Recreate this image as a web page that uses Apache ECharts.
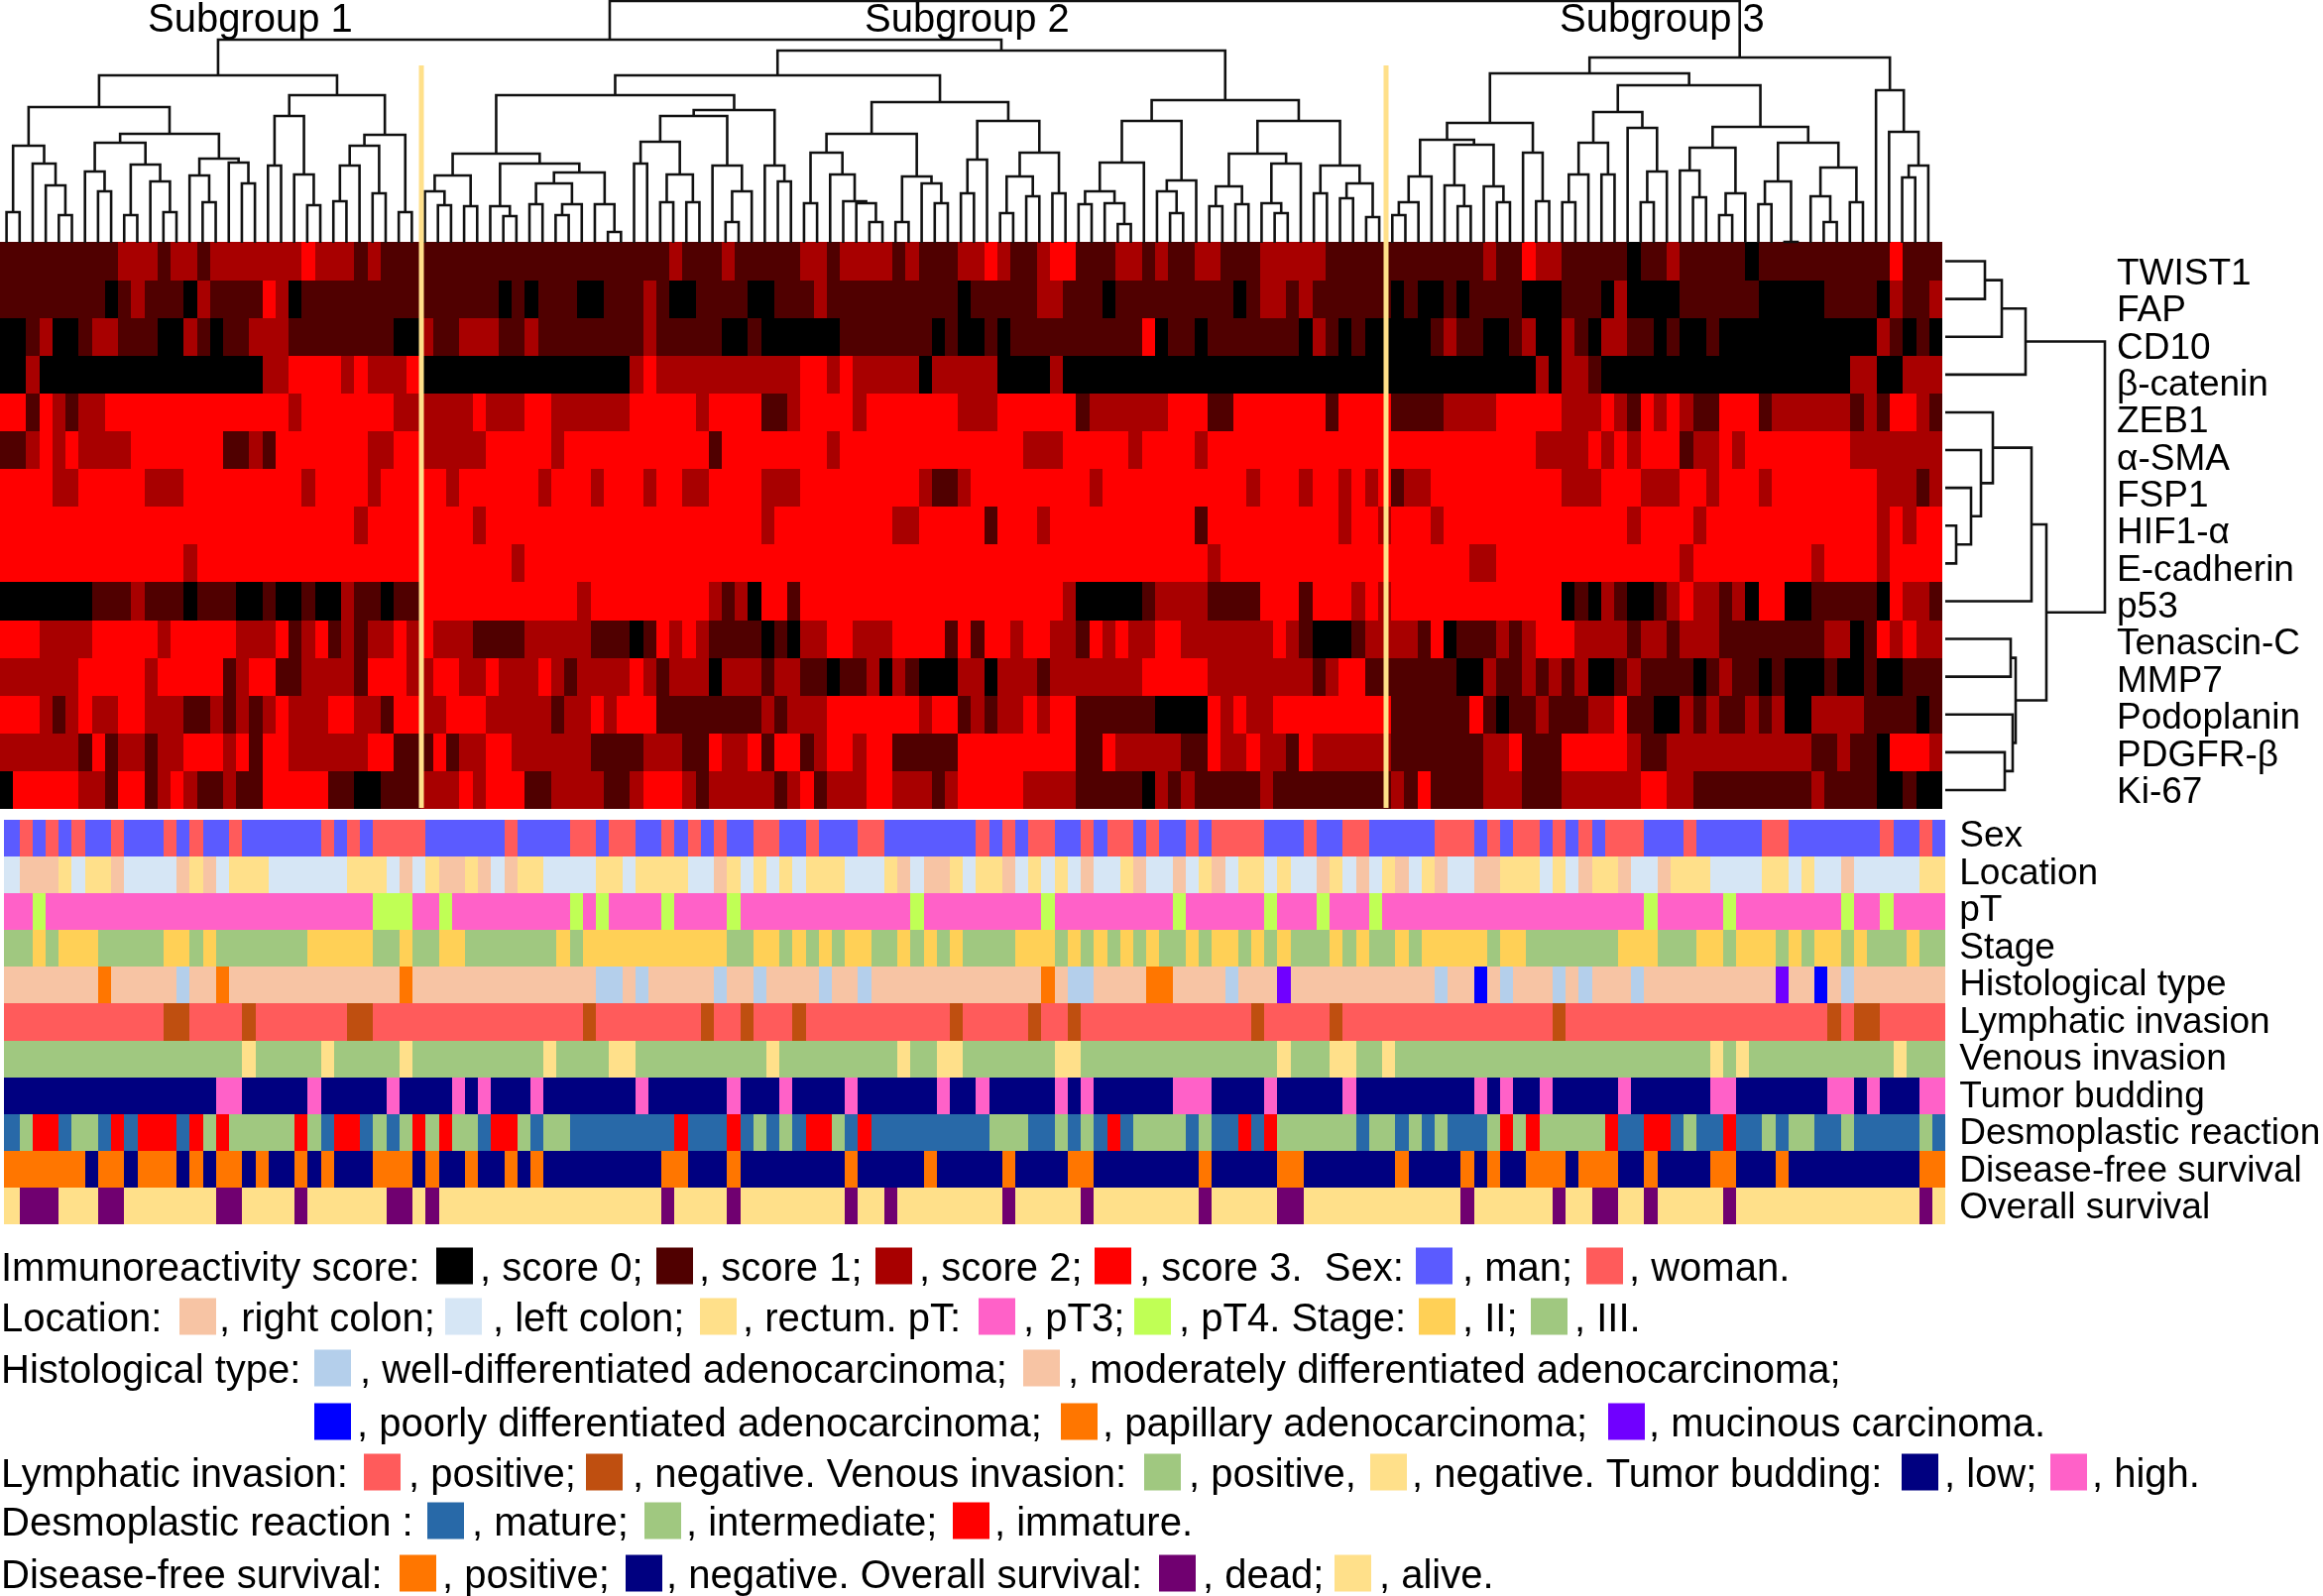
<!DOCTYPE html>
<html>
<head>
<meta charset="utf-8">
<title>Immunoreactivity clustering</title>
<script src="https://cdn.jsdelivr.net/npm/echarts@6/dist/echarts.min.js"></script>
<style>
  html, body { margin: 0; padding: 0; background: #fff; }
  #chart { width: 2343px; height: 1610px; }
</style>
</head>
<body>
<div id="chart"></div>
<script>
// 148 cases, every row below is written as pairs: value, column where that value stops
const twist1 = [1,9,2,12,1,13,2,15,1,16,2,23,3,24,2,27,1,28,2,29,1,51,2,52,1,55,2,56,1,61,2,63,1,64,2,68,1,69,2,70,1,73,2,75,3,76,2,77,1,79,2,80,3,82,1,85,2,87,1,88,2,89,1,91,2,93,1,96,2,101,1,113,2,114,1,116,3,117,2,119,1,124,0,125,1,127,2,128,1,133,0,134,1,144,3,145,1,148];
const fap = [1,8,0,9,1,10,2,11,1,14,0,15,2,16,1,20,3,21,2,22,0,23,1,38,0,39,1,40,0,41,1,44,0,46,1,49,2,50,1,51,0,53,1,57,0,59,1,62,2,63,1,73,0,74,1,79,2,81,1,84,0,85,1,94,0,95,1,96,2,98,1,99,2,100,1,106,0,107,1,108,0,110,1,111,0,112,1,116,0,119,1,122,0,123,2,124,0,128,1,134,0,139,1,143,0,144,2,145,1,147,2,148];
const cd10 = [0,2,1,3,2,4,0,6,1,7,2,9,1,12,0,14,2,15,1,16,0,17,1,19,2,22,1,30,0,32,2,33,1,35,2,38,1,40,2,41,1,49,2,50,1,55,0,57,1,58,0,64,1,71,0,72,1,73,0,75,1,76,0,77,1,87,3,88,0,89,1,91,0,92,1,99,0,100,2,101,1,102,0,103,1,104,0,109,1,110,2,111,1,113,0,115,1,116,2,117,0,119,2,120,1,121,0,122,2,124,1,126,0,127,1,128,0,130,1,131,0,143,2,144,1,145,0,146,1,147,0,148];
const betaCatenin = [0,2,2,3,0,20,2,22,3,26,2,27,3,28,2,31,3,32,0,48,2,49,3,50,2,61,3,63,2,64,3,65,2,70,0,71,2,76,0,80,2,81,0,117,2,118,0,119,2,121,1,122,0,141,2,143,0,145,2,148];
const zeb1 = [3,2,1,3,3,4,2,5,1,6,2,8,3,22,2,23,3,30,2,36,3,37,2,40,3,42,2,48,3,53,2,54,3,58,1,60,2,61,3,65,2,66,3,73,2,76,3,82,1,83,2,89,3,92,1,94,3,101,1,102,3,106,1,110,2,114,3,119,2,122,3,123,2,124,1,125,3,126,2,127,3,128,2,129,1,131,3,134,1,135,2,141,1,142,2,143,1,144,3,146,2,147,1,148];
const alphaSma = [1,2,2,3,3,4,2,5,3,6,2,10,3,17,1,19,2,20,1,21,3,28,2,30,3,32,2,37,3,42,2,43,3,54,1,55,3,63,2,64,3,78,2,81,3,86,2,87,3,91,2,92,3,117,2,121,3,122,2,123,3,124,2,125,3,128,1,129,2,131,3,132,2,133,3,141,2,148];
const fsp1 = [3,4,2,6,3,11,2,14,3,23,2,24,3,28,2,29,3,34,2,35,3,41,2,42,3,45,2,46,3,49,2,50,3,52,2,54,3,58,2,61,3,70,2,71,1,73,2,74,3,83,2,84,3,95,2,96,3,99,2,100,3,102,2,103,3,104,2,105,3,106,1,107,2,109,3,119,2,122,3,125,2,128,3,130,2,131,3,134,2,135,3,143,2,146,1,147,2,148];
const hif1a = [3,27,2,28,3,36,2,37,3,58,2,59,3,68,2,70,3,75,1,76,3,79,2,80,3,91,1,92,3,102,2,103,3,105,2,106,3,109,2,110,3,124,2,125,3,129,2,130,3,143,2,144,3,145,2,146,3,148];
const eCadherin = [3,14,2,15,3,39,2,40,3,92,2,93,3,112,2,114,3,128,2,129,3,138,2,139,3,143,2,144,3,148];
const p53 = [0,7,1,10,2,11,1,14,0,15,1,18,0,20,1,21,0,23,1,24,0,26,2,27,1,29,0,30,1,32,3,44,2,45,3,54,2,55,1,56,2,57,0,58,3,60,1,61,3,81,2,82,0,87,1,88,2,92,1,96,3,99,1,100,3,103,2,104,3,105,2,106,3,119,0,120,1,121,0,122,2,123,1,124,0,126,1,127,2,128,3,129,2,131,1,132,2,133,0,134,3,136,0,138,1,143,0,144,3,145,2,147,1,148];
const tenascinC = [3,3,2,7,3,12,2,13,3,18,2,21,3,22,1,23,2,24,3,25,1,26,2,27,1,28,2,30,3,31,2,32,3,33,2,36,1,40,2,45,1,48,0,49,1,50,3,51,2,52,3,53,2,54,1,58,0,59,1,60,0,61,2,63,3,65,2,68,3,72,1,73,3,74,1,75,3,77,2,78,3,80,2,82,1,83,3,84,2,85,3,86,2,88,3,90,2,97,3,98,2,99,1,100,0,103,1,104,2,108,1,109,3,110,0,111,1,114,2,115,1,116,2,117,3,120,2,124,1,125,2,127,1,128,2,131,1,139,2,141,0,142,1,143,3,144,2,145,3,146,2,148];
const mmp7 = [2,6,3,11,2,12,3,17,1,18,2,19,3,21,1,23,2,27,1,28,3,31,2,33,3,35,2,37,3,38,2,41,3,42,2,43,1,44,2,48,3,49,2,50,1,51,2,54,0,55,2,58,1,59,2,61,1,63,0,64,1,66,2,67,0,68,2,69,1,70,0,73,2,75,0,76,2,79,1,80,2,87,3,92,2,100,1,101,2,102,3,104,1,111,0,113,2,114,1,116,2,117,1,118,2,119,1,120,2,121,0,123,1,124,2,125,1,129,0,130,1,131,2,132,1,134,0,135,1,136,0,139,1,140,0,142,1,143,0,145,1,148];
const podoplanin = [3,3,2,4,1,5,2,6,3,7,2,9,3,11,2,14,1,16,2,17,1,18,2,19,1,20,2,21,3,22,2,25,3,27,2,29,1,30,3,32,2,34,3,37,2,42,1,43,2,45,3,46,2,47,3,50,1,58,2,59,1,60,2,63,3,70,2,71,3,73,1,74,2,75,1,76,2,78,3,79,2,80,3,82,1,88,0,92,3,93,2,94,3,95,2,97,3,106,1,112,3,113,1,114,0,115,1,117,2,118,1,121,2,123,3,124,1,126,0,128,2,129,1,130,2,131,1,133,2,134,1,135,2,136,0,138,2,142,1,146,0,147,1,148];
const pdgfrBeta = [2,6,1,7,3,8,1,9,2,11,1,12,2,14,3,17,2,18,3,19,1,20,3,22,2,28,3,30,1,33,3,34,1,35,2,37,3,39,2,45,1,49,2,52,1,54,3,55,2,57,3,58,1,59,3,61,1,62,2,63,3,65,2,66,3,68,1,73,3,82,1,84,3,85,2,90,1,92,3,93,2,95,3,96,2,98,1,99,3,100,2,106,1,113,2,115,3,116,1,119,3,124,2,125,1,127,2,138,1,140,2,141,1,143,0,144,3,147,2,148];
const ki67 = [0,1,3,6,2,8,1,9,3,11,1,12,2,13,3,14,2,15,1,17,2,18,1,20,3,25,1,27,0,29,1,32,2,35,3,36,2,37,3,40,1,42,2,46,1,48,2,49,3,52,2,53,1,54,2,59,1,60,2,61,3,62,1,63,2,66,3,68,2,71,1,72,2,73,3,78,2,82,1,87,0,88,2,89,1,90,2,91,1,96,2,97,1,106,2,107,1,108,3,109,1,113,2,116,1,119,2,125,3,127,2,129,1,138,2,139,1,143,0,145,1,146,0,148];

// 0 man, 1 woman
const sex = [0,1,1,2,0,3,1,4,0,5,1,6,0,8,1,9,0,12,1,13,0,14,1,15,0,17,1,18,0,24,1,25,0,26,1,27,0,28,1,32,0,38,1,39,0,43,1,45,0,46,1,48,0,50,1,51,0,52,1,53,0,54,1,55,0,57,1,59,0,61,1,62,0,65,1,67,0,74,1,75,0,76,1,77,0,78,1,80,0,82,1,83,0,84,1,86,0,87,1,88,0,90,1,91,0,92,1,96,0,99,1,100,0,102,1,104,0,109,1,112,0,113,1,114,0,115,1,117,0,118,1,119,0,120,1,121,0,122,1,125,0,128,1,129,0,134,1,136,0,143,1,144,0,146,1,147,0,148];
// 0 right colon, 1 left colon, 2 rectum
const location_ = [1,1,0,4,2,5,1,6,2,8,0,9,1,13,0,14,2,15,0,16,1,17,2,20,1,26,2,29,1,30,0,31,1,32,2,33,0,35,2,36,0,37,1,38,0,39,2,41,1,45,2,47,1,48,2,52,1,54,0,55,2,56,1,57,2,58,1,59,2,60,1,61,2,64,1,67,2,68,0,69,1,70,0,72,2,73,1,74,2,76,0,77,1,78,2,79,1,80,2,81,1,82,0,83,1,85,2,86,0,87,1,89,0,90,1,91,2,92,0,93,1,94,2,96,1,97,2,98,1,100,0,101,2,102,1,103,0,104,1,105,2,106,0,107,1,108,2,109,0,110,1,112,0,114,2,117,1,118,2,119,1,120,0,121,2,123,0,124,1,126,0,127,2,130,1,134,2,136,1,137,2,138,1,140,0,141,1,146,2,148];
// 0 pT3, 1 pT4
const pT = [0,2,1,3,0,28,1,31,0,33,1,34,0,43,1,44,0,45,1,46,0,50,1,51,0,55,1,56,0,69,1,70,0,79,1,80,0,89,1,90,0,96,1,97,0,100,1,101,0,104,1,105,0,125,1,126,0,131,1,132,0,140,1,141,0,143,1,144,0,148];
// 0 II, 1 III
const stage = [1,2,0,3,1,4,0,7,1,12,0,14,1,15,0,16,1,23,0,28,1,30,0,31,1,33,0,35,1,42,0,43,1,44,0,55,1,57,0,59,1,60,0,61,1,62,0,63,1,64,0,66,1,68,0,69,1,70,0,71,1,72,0,73,1,77,0,80,1,81,0,82,1,83,0,84,1,85,0,86,1,87,0,88,1,90,0,91,1,92,0,94,1,95,0,96,1,97,0,98,1,101,0,102,1,103,0,104,1,106,0,107,1,108,0,113,1,114,0,116,1,123,0,126,1,129,0,131,1,132,0,135,1,136,0,137,1,138,0,140,1,141,0,142,1,145,0,146,1,148];
// 0 well, 1 moderate, 2 poor, 3 papillary, 4 mucinous
const histologicalType = [1,7,3,8,1,13,0,14,1,16,3,17,1,30,3,31,1,45,0,47,1,48,0,49,1,54,0,55,1,57,0,58,1,62,0,63,1,65,0,66,1,79,3,80,1,81,0,83,1,87,3,89,1,93,0,94,1,97,4,98,1,109,0,110,1,112,2,113,1,114,0,115,1,118,0,119,1,120,0,121,1,124,0,125,1,135,4,136,1,138,2,139,1,140,0,141,1,148];
// 0 positive, 1 negative
const lymphaticInvasion = [0,12,1,14,0,18,1,19,0,26,1,28,0,44,1,45,0,53,1,54,0,56,1,57,0,60,1,61,0,72,1,73,0,78,1,79,0,81,1,82,0,95,1,96,0,101,1,102,0,118,1,119,0,139,1,140,0,141,1,143,0,148];
// 0 positive, 1 negative
const venousInvasion = [0,18,1,19,0,24,1,25,0,30,1,31,0,41,1,42,0,46,1,48,0,58,1,59,0,68,1,69,0,71,1,73,0,80,1,82,0,97,1,98,0,101,1,103,0,105,1,106,0,130,1,131,0,132,1,133,0,144,1,145,0,148];
// 0 low, 1 high
const tumorBudding = [0,16,1,18,0,23,1,24,0,29,1,30,0,34,1,35,0,36,1,37,0,40,1,41,0,48,1,49,0,55,1,56,0,59,1,60,0,64,1,65,0,71,1,72,0,74,1,75,0,80,1,81,0,82,1,83,0,89,1,92,0,96,1,97,0,102,1,103,0,112,1,113,0,114,1,115,0,117,1,118,0,123,1,124,0,130,1,132,0,139,1,141,0,142,1,143,0,146,1,148];
// 0 mature, 1 intermediate, 2 immature
const desmoplasticReaction = [0,1,1,2,2,4,0,5,1,7,0,8,2,9,0,10,2,13,0,14,2,15,1,16,2,17,1,22,2,23,1,24,0,25,2,27,0,28,1,29,0,30,1,31,2,32,1,33,2,34,1,36,0,37,2,39,1,40,0,41,1,43,0,51,2,52,0,55,2,56,0,57,1,58,0,59,1,60,0,61,2,63,1,64,0,65,2,66,0,75,1,78,0,80,1,81,0,82,1,83,0,84,2,85,0,86,1,90,0,91,1,92,0,94,2,95,0,96,2,97,1,103,0,104,1,106,0,107,1,108,0,109,1,110,0,113,1,114,2,115,1,116,2,117,1,122,2,123,0,125,2,127,0,128,1,129,0,131,2,132,0,134,1,135,0,136,1,138,0,140,1,141,0,146,1,147,0,148];
// 0 positive, 1 negative
const diseaseFreeSurvival = [0,6,1,7,0,9,1,10,0,13,1,14,0,15,1,16,0,18,1,19,0,20,1,22,0,23,1,24,0,25,1,28,0,31,1,32,0,33,1,35,0,36,1,38,0,39,1,40,0,41,1,50,0,52,1,55,0,56,1,64,0,65,1,70,0,71,1,76,0,77,1,81,0,83,1,91,0,92,1,97,0,99,1,106,0,107,1,111,0,112,1,113,0,114,1,116,0,119,1,120,0,123,1,125,0,126,1,130,0,132,1,135,0,136,1,146,0,148];
// 0 dead, 1 alive
const overallSurvival = [1,1,0,4,1,7,0,9,1,16,0,18,1,22,0,23,1,29,0,31,1,32,0,33,1,50,0,51,1,55,0,56,1,64,0,65,1,67,0,68,1,76,0,77,1,82,0,83,1,91,0,92,1,97,0,99,1,111,0,112,1,118,0,119,1,121,0,123,1,125,0,126,1,131,0,132,1,146,0,147,1,148];

const markers = ["TWIST1", "FAP", "CD10", "β-catenin", "ZEB1", "α-SMA", "FSP1", "HIF1-α", "E-cadherin", "p53", "Tenascin-C", "MMP7", "Podoplanin", "PDGFR-β", "Ki-67"];
const markerRows = [twist1, fap, cd10, betaCatenin, zeb1, alphaSma, fsp1, hif1a, eCadherin, p53, tenascinC, mmp7, podoplanin, pdgfrBeta, ki67];
const tracks = ["Sex", "Location", "pT", "Stage", "Histological type", "Lymphatic invasion", "Venous invasion", "Tumor budding", "Desmoplastic reaction", "Disease-free survival", "Overall survival"];
const trackRows = [sex, location_, pT, stage, histologicalType, lymphaticInvasion, venousInvasion, tumorBudding, desmoplasticReaction, diseaseFreeSurvival, overallSurvival];

// dendrograms: [merge height, left, right], plain numbers are leaves
const subgroup1Tree = [169,
  [137,
    [98, [31, 0, 1], [80, 2, [58, 3, [28, 4, 5]]]],
    [110,
      [101, [72, 6, [52, 7, 8]], [79, [28, 9, 10], [62, 11, [31, 12, 13]]]],
      [85, [68, 14, [41, 15, 16]], [81, 17, [60, 18, 19]]]]],
  [149,
    [128, [78, 20, 21], [69, 22, [38, 23, 24]]],
    [109, [98, [78, [42, 25, 26], 27], [50, 28, 29]], [31, 30, 31]]]];
const subgroup2Tree = [194,
  [169,
    [149,
      [90,
        [68, [52, 32, [38, 33, 34]], [37, 35, 36]],
        [80, [37, 37, [27, 38, 39]], [71, [60, [39, 40, 41], [39, [28, 42, 43], 44]], [39, 45, [11, 46, 47]]]]],
      [134,
        [128, [102, [80, 48, 49], [69, [41, 50, 51], [41, 52, 53]]], [78, 54, [52, [21, 55, 56], 57]]],
        [78, 58, [62, 59, 60]]]],
    [142,
      [110,
        [91, [40, 61, 62], [69, 63, [42, 64, [40, 65, [21, 66, 67]]]]],
        [67, [21, 68, 69], [60, 70, [40, 71, 72]]]],
      [123,
        [84, [50, 73, 74], 75],
        [91, [67, [30, 76, 77], [47, 78, 79]], [50, 80, 81]]]]],
  [144,
    [123,
      [81, [52, [39, 82, 83], [40, 84, [19, 85, 86]]], 87],
      [63, [52, 88, [30, 89, 90]], 91]],
    [123,
      [90, [57, [37, 92, 93], [39, 94, 95]], [80, [40, 96, [30, 97, 98]], 99]],
      [78, [50, 100, 101], [60, [45, 102, 103], [26, 104, 105]]]]]];
const subgroup3Tree = [187,
  [171,
    [121,
      [104, [67, [41, [28, 106, 107], 108], 109], [99, [58, 110, [37, 111, 112]], [57, 113, [41, 114, 115]]]],
      [91, 116, [42, 117, 118]]],
    [159,
      [132, [101, [69, [41, 119, 120], 121], [69, 122, 123]], [116, 124, [72, [41, 125, 126], 127]]],
      [117,
        [96, [73, 128, [46, 129, 130]], [50, [28, 131, 132], 133]],
        [101, [62, [39, 134, 135], [1, 136, 137]], [76, [47, 138, [21, 139, 140]], [41, 141, 142]]]]]],
  [154, 143, [112, 144, [78, [66, 145, 146], 147]]]];
const caseTree = [244, [205, subgroup1Tree, subgroup2Tree], subgroup3Tree];
const markerTree = [161,
  [81, [57, [40, 0, 1], 2], 3],
  [102,
    [87, [48, 4, [36, 5, [26, 6, [11, 7, 8]]]], 9],
    [71, [66, 10, 11], [68, 12, [60, 13, 14]]]]];

const scoreColors = ["#000000", "#500000", "#a80000", "#ff0000"];
const trackColors = [
  ["#5b5bff", "#ff5b5b"],
  ["#f7c4a4", "#d6e6f5", "#ffe08a"],
  ["#ff61c8", "#c0ff55"],
  ["#ffd056", "#a0c880"],
  ["#b4cfeb", "#f7c4a4", "#0000ff", "#ff7600", "#7000ff"],
  ["#ff5b5b", "#bf4f10"],
  ["#a0c880", "#ffe08a"],
  ["#000080", "#ff61c8"],
  ["#2869a8", "#a0c880", "#ff0000"],
  ["#ff7600", "#000080"],
  ["#700070", "#ffe08a"],
];

// legend lines, [x, text] or [x, swatch colour]
const legendLines = [
  { y: 1277, parts: [[1, "Immunoreactivity score:"], [440, "#000000"], [484, ", score 0;"], [662, "#500000"], [705, ", score 1;"], [883, "#a80000"], [927, ", score 2;"], [1104, "#ff0000"], [1149, ", score 3.  Sex:"], [1428, "#5b5bff"], [1475, ", man;"], [1600, "#ff5b5b"], [1643, ", woman."]] },
  { y: 1328, parts: [[1, "Location:"], [181, "#f7c4a4"], [221, ", right colon;"], [449, "#d6e6f5"], [497, ", left colon;"], [706, "#ffe08a"], [749, ", rectum. pT:"], [987, "#ff61c8"], [1032, ", pT3;"], [1144, "#c0ff55"], [1189, ", pT4. Stage:"], [1431, "#ffd056"], [1475, ", II;"], [1544, "#a0c880"], [1588, ", III."]] },
  { y: 1380, parts: [[1, "Histological type:"], [317, "#b4cfeb"], [363, ", well-differentiated adenocarcinoma;"], [1032, "#f7c4a4"], [1077, ", moderately differentiated adenocarcinoma;"]] },
  { y: 1434, parts: [[317, "#0000ff"], [360, ", poorly differentiated adenocarcinoma;"], [1070, "#ff7600"], [1112, ", papillary adenocarcinoma;"], [1622, "#7000ff"], [1663, ", mucinous carcinoma."]] },
  { y: 1485, parts: [[1, "Lymphatic invasion:"], [367, "#ff5b5b"], [412, ", positive;"], [591, "#bf4f10"], [638, ", negative. Venous invasion:"], [1154, "#a0c880"], [1199, ", positive,"], [1382, "#ffe08a"], [1424, ", negative. Tumor budding:"], [1918, "#000080"], [1961, ", low;"], [2068, "#ff61c8"], [2110, ", high."]] },
  { y: 1534, parts: [[1, "Desmoplastic reaction :"], [431, "#2869a8"], [476, ", mature;"], [650, "#a0c880"], [692, ", intermediate;"], [961, "#ff0000"], [1003, ", immature."]] },
  { y: 1587, parts: [[1, "Disease-free survival:"], [403, "#ff7600"], [446, ", positive;"], [631, "#000080"], [672, ", negative. Overall survival:"], [1169, "#700070"], [1213, ", dead;"], [1346, "#ffe08a"], [1391, ", alive."]] },
];
const subgroupTitles = [["Subgroup 1", 149], ["Subgroup 2", 872], ["Subgroup 3", 1573]];
const cutLines = [425, 1398];

const FONT = '"Liberation Sans", Arial, sans-serif';
const COLS = 148;
const columns = [];
for (let i = 0; i < COLS; i++) columns.push(i);

// value, end, value, end ... -> one value per column
const expand = (runs) => {
  const out = [];
  for (let i = 0; i < runs.length; i += 2) {
    while (out.length < runs[i + 1]) out.push(runs[i]);
  }
  return out;
};

// walk a tree and give back one 4 point bracket per merge
const treeSegments = (node, segs) => {
  if (typeof node === "number") return { pos: node + 0.5, h: 0 };
  const l = treeSegments(node[1], segs);
  const r = treeSegments(node[2], segs);
  segs.push([[l.pos, l.h], [l.pos, node[0]], [r.pos, node[0]], [r.pos, r.h]]);
  return { pos: (l.pos + r.pos) / 2, h: node[0] };
};

const heatData = [];
markerRows.forEach((runs, row) => {
  expand(runs).forEach((v, col) => heatData.push([col, row, v]));
});
const trackData = [];
trackRows.forEach((runs, row) => {
  expand(runs).forEach((v, col) => trackData.push([col, row, v]));
});

const caseSegs = [];
treeSegments(caseTree, caseSegs);
const markerSegs = [];
treeSegments(markerTree, markerSegs);

// cells snap to whole pixels so no seams show between neighbours
const cellRenderer = (colorOf, firstColExtra) => (params, api) => {
  const col = api.value(0);
  const row = api.value(1);
  const c = api.coord([col, row]);
  const s = api.size([1, 1]);
  const x0 = Math.round(c[0] - s[0] / 2 - (col === 0 ? firstColExtra : 0));
  const x1 = Math.round(c[0] + s[0] / 2);
  const y0 = Math.round(c[1] - s[1] / 2);
  const y1 = Math.round(c[1] + s[1] / 2);
  return {
    type: "rect",
    shape: { x: x0, y: y0, width: x1 - x0, height: y1 - y0 },
    style: { fill: colorOf(row, api.value(2)) },
  };
};

const graphics = [];
cutLines.forEach((x) => {
  graphics.push({ type: "rect", z: 20, silent: true, shape: { x: x - 2.5, y: 66, width: 5, height: 749 }, style: { fill: "#ffe08a" } });
});
subgroupTitles.forEach(([text, x]) => {
  graphics.push({ type: "text", z: 21, silent: true, style: { text, x, y: 21, fill: "#000", fontSize: 40, fontFamily: FONT, verticalAlign: "middle" } });
});
legendLines.forEach((line) => {
  line.parts.forEach(([x, part]) => {
    if (part[0] === "#") {
      graphics.push({ type: "rect", silent: true, shape: { x, y: line.y - 18.5, width: 37, height: 37 }, style: { fill: part } });
    } else {
      graphics.push({ type: "text", silent: true, style: { text: part, x, y: line.y + 3.5, fill: "#000", fontSize: 40, fontFamily: FONT, verticalAlign: "middle" } });
    }
  });
});

const hiddenCategory = (data, inverse) => ({ type: "category", data, show: false, inverse });
const labelAxis = (data, gridIndex, fontSize) => ({
  type: "category",
  gridIndex,
  data,
  inverse: true,
  position: "right",
  axisLine: { show: false },
  axisTick: { show: false },
  axisLabel: { show: true, interval: 0, margin: 0, color: "#000", fontSize, fontFamily: FONT },
});

const option = {
  animation: false,
  backgroundColor: "#fff",
  grid: [
    { left: 0, top: 244.5, width: 1959, height: 571.5 },
    { left: 6.4, top: 827, width: 1956, height: 408 },
    { left: -2.1, top: 0, width: 1953.6, height: 245 },
    { left: 1962, top: 244.5, width: 165, height: 571.5 },
    { left: 2134, top: 258, width: 1, height: 560.4 },
    { left: 1976, top: 825.3, width: 1, height: 412.5 },
  ],
  xAxis: [
    { ...hiddenCategory(columns), gridIndex: 0 },
    { ...hiddenCategory(columns), gridIndex: 1 },
    { type: "value", gridIndex: 2, min: 0, max: COLS, show: false },
    { type: "value", gridIndex: 3, min: 0, max: 165, show: false },
    { type: "value", gridIndex: 4, min: 0, max: 1, show: false },
    { type: "value", gridIndex: 5, min: 0, max: 1, show: false },
  ],
  yAxis: [
    { ...hiddenCategory(markers, true), gridIndex: 0 },
    { ...hiddenCategory(tracks, true), gridIndex: 1 },
    { type: "value", gridIndex: 2, min: 0, max: 245, show: false },
    { type: "value", gridIndex: 3, min: 0, max: 15, inverse: true, show: false },
    labelAxis(markers, 4, 37),
    labelAxis(tracks, 5, 37),
  ],
  series: [
    {
      type: "custom",
      xAxisIndex: 0,
      yAxisIndex: 0,
      data: heatData,
      silent: true,
      encode: { x: 0, y: 1 },
      progressive: 0,
      renderItem: cellRenderer((row, v) => scoreColors[v], 0),
    },
    {
      type: "custom",
      xAxisIndex: 1,
      yAxisIndex: 1,
      data: trackData,
      silent: true,
      encode: { x: 0, y: 1 },
      progressive: 0,
      renderItem: cellRenderer((row, v) => trackColors[row][v], 2.8),
    },
    {
      type: "lines",
      coordinateSystem: "cartesian2d",
      xAxisIndex: 2,
      yAxisIndex: 2,
      polyline: true,
      silent: true,
      lineStyle: { color: "#111", width: 2.6, opacity: 1, curveness: 0 },
      data: caseSegs.map((coords) => ({ coords })),
    },
    {
      type: "lines",
      coordinateSystem: "cartesian2d",
      xAxisIndex: 3,
      yAxisIndex: 3,
      polyline: true,
      silent: true,
      lineStyle: { color: "#111", width: 2.6, opacity: 1, curveness: 0 },
      data: markerSegs.map((seg) => ({ coords: seg.map(([pos, h]) => [h, pos]) })),
    },
  ],
  graphic: graphics,
};

const chart = echarts.init(document.getElementById("chart"));
chart.setOption(option);
</script>
</body>
</html>
